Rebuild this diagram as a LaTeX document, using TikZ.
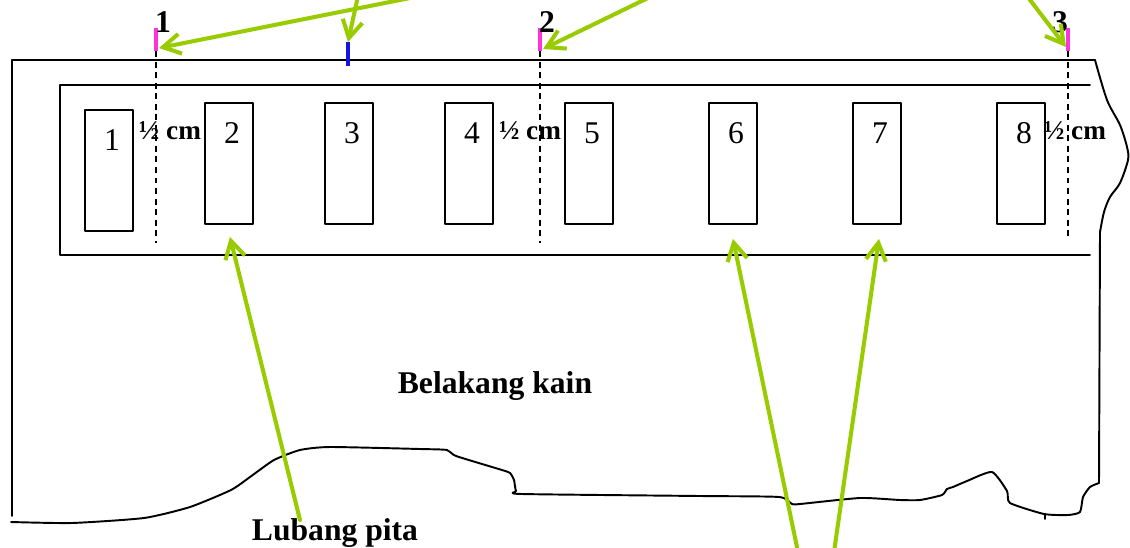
\documentclass[tikz,border=0pt]{standalone}
\usepackage{fontspec}
\setmainfont{Liberation Serif}
\usetikzlibrary{arrows.meta,calc}
\definecolor{pitagreen}{HTML}{99CC00}
\definecolor{tandapink}{HTML}{FF33DD}
\definecolor{tandablue}{HTML}{1515E0}
\begin{document}
\begin{tikzpicture}[x=0.02cm, y=-0.02cm, line join=round, line cap=round, >={Straight Barb[length=3.5mm,width=4mm]},
	kain/.style={line width=1.1pt},
	lubang/.style={draw, line width=1.1pt, minimum width=0.96cm, minimum height=2.42cm, inner sep=0pt, anchor=north west},
	garis/.style={line width=0.8pt, dash pattern=on 3.4pt off 2.6pt, line cap=butt},
	tanda/.style={line width=2.8pt, line cap=butt},
	panah/.style={->, pitagreen, line width=2.3pt},
	angka/.style={font=\fontsize{18}{21}\selectfont, inner sep=0pt},
	judul/.style={font=\bfseries\fontsize{18}{21}\selectfont, inner sep=0pt},
	ukuran/.style={font=\bfseries\fontsize{15.5}{17}\selectfont, inner sep=0pt}]
			\useasboundingbox (0,0) rectangle (1130,548);
			% kain
			\draw[kain] (12,516) -- (12,60) -- (1095,60);
			\draw[kain] plot[smooth, tension=.5] coordinates {(1095,60) (1107,100) (1120,125) (1127,147) (1128,160) (1120,183) (1110,197) (1104,212) (1100,232)} -- (1099,483);
			\draw[kain] plot[smooth, tension=.35] coordinates {(1099,483) (1090,487) (1083,497) (1080,512) (1068,515) (1044,514) (1010,503) (1007,491) (992,472) (967,481) (953,487) (947,489) (942,495) (920,500) (900,500) (860,498) (800,504) (792,504) (779,497) (700,496) (522,494) (516,491) (514,480) (510,473) (502,470) (456,456) (447,450) (420,449) (330,447) (300,450) (274,460) (250,477) (231,490) (190,507) (144,518) (72,523) (11,522)};
			\draw[kain] (1045,514) -- (1045,519);
			\draw[kain] (1090,85) -- (60,85) -- (60,255) -- (1090,255);
			% lubang
			\foreach \n/\x/\y in {1/84/109,2/204/102,3/324/102,4/444/102,5/564/102,6/708/102,7/852/102,8/996/102}
			{
			\node[lubang] (b\n) at (\x,\y) {};
			\node[angka] (n\n) at (\x+28,\y+31) {\n};
			}
			% tanda
			\foreach \k/\x/\lx/\ux/\ly in {1/156/163/170/243,2/540/547/530/243,3/1068/1060/1075/240}
			{
			\coordinate (t\k) at (\x,51);
			\draw[tanda, tandapink] (\x,28) -- (t\k);
			\draw[garis] (t\k) -- (\x,\ly);
			\node[judul] (k\k) at (\lx,22) {\k};
			\node[ukuran] (u\k) at (\ux,131) {½ cm};
			}
			\coordinate (tb) at (348,42);
			\draw[tanda, tandablue] (tb) -- (348,66);
			\node[judul] (belakang) at (495,386) {Belakang kain};
			\node[judul] (pita) at (335,533) {Lubang pita};
			% panah
			\coordinate (g1) at (420,-4);
			\coordinate (g2) at (358,-4);
			\coordinate (g3) at (652,-4);
			\coordinate (g4) at (1027,-4);
			\coordinate (g5) at (300,520);
			\coordinate (g6) at (798,552);
			\coordinate (g7) at (834,552);
			\draw[panah] (g1) -- ($(t1)+(3,-3)$);
			\draw[panah] (g2) -- (tb);
			\draw[panah] (g3) -- ($(t2)+(3,-2)$);
			\draw[panah] (g4) -- ($(t3)+(-2,-4)$);
			\draw[panah] (g5) -- ($(b2.south)+(1,12)$);
			\draw[panah] (g6) -- ($(b6.south)+(0,14)$);
			\draw[panah] (g7) -- ($(b7.south)+(2,14)$);
			\end{tikzpicture}
\end{document}
